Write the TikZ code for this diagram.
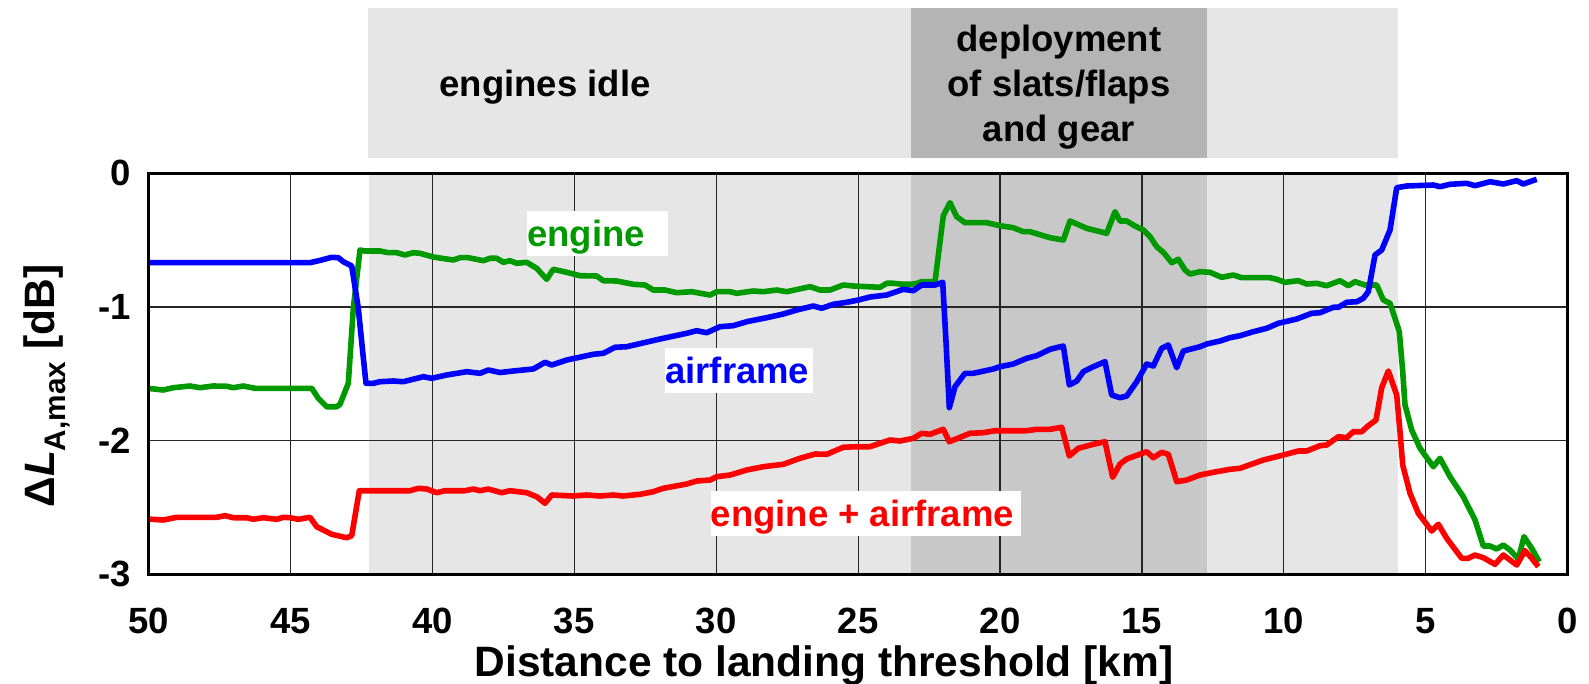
\documentclass[tikz,border=0pt]{standalone}
\usepackage{fontspec}
\setmainfont{Liberation Sans}
\definecolor{lgray}{HTML}{E6E6E6}
\definecolor{dgray}{HTML}{C8C8C8}
\definecolor{dgraytop}{HTML}{B4B4B4}
\definecolor{cgreen}{RGB}{0,153,0}
\definecolor{cblue}{RGB}{0,0,255}
\definecolor{cred}{RGB}{255,0,0}
\begin{document}
\begin{tikzpicture}[x=1pt,y=-1pt,
  curve/.style={line width=5.6pt, line join=round},
  gridline/.style={line width=1.1pt, black!85},
  lbl/.style={font=\fontsize{36.5}{45}\selectfont\bfseries, inner sep=0pt},
  titlefont/.style={font=\fontsize{42.5}{48}\selectfont\bfseries, inner sep=0pt},
  whitebox/.style={fill=white}]
\useasboundingbox (0,0) rectangle (1589,684);
% top band
\fill[lgray] (368,8) rectangle (1397.7,158);
\fill[dgraytop] (911,8) rectangle (1206.7,158);
\node[lbl, anchor=base] (idle) at (545,97) {engines idle};
\node[lbl, anchor=base] (dep1) at (1059,52) {deployment};
\node[lbl, anchor=base] (dep2) at (1059,97) {of slats/flaps};
\node[lbl, anchor=base] (dep3) at (1059,142) {and gear};
% plot background
\fill[lgray] (369,173.3) rectangle (1397.7,574.3);
\fill[dgray] (911,173.3) rectangle (1206.7,574.3);
% grid
\foreach \k in {1,...,9} {
  \pgfmathsetmacro{\gx}{148.5+141.92*\k}
  \draw[gridline] (\gx,173.3) -- (\gx,574.3);
}
\draw[gridline] (148.5,307) -- (1567.7,307);
\draw[gridline] (148.5,440.7) -- (1567.7,440.7);
% curves
\draw[curve, cgreen] (147.3,388.3) -- (163.3,390) -- (173.3,387.7) -- (190,386) -- (200,387.7) -- (213.3,386) -- (226.7,386.3) -- (233.3,387.7) -- (243.3,386) -- (255,388.3) -- (311.7,388.3) -- (318.3,398.3) -- (326.7,406.7) -- (336.7,406.7) -- (340,404.3) -- (348.3,383.3) -- (353.3,308.3) -- (360,250) -- (365,251) -- (380,251) -- (388.3,252.7) -- (396.7,252.7) -- (405,255) -- (413.3,252.7) -- (420,253.3) -- (433.3,257) -- (441.7,258.3) -- (453.3,260) -- (460,257.7) -- (468.3,257.7) -- (483.3,260.7) -- (490,258.3) -- (496.7,258.3) -- (503.3,262.3) -- (510,260.7) -- (516.7,263.3) -- (526.7,262.3) -- (536.7,268.3) -- (546.7,279.3) -- (553.3,269.3) -- (566.7,272.3) -- (580,275.7) -- (596.7,276) -- (603.3,280.7) -- (616.7,281) -- (633.3,284.3) -- (645,285) -- (653.3,290) -- (665,290) -- (676.7,292.7) -- (691.7,291.7) -- (710,295) -- (716.7,291.7) -- (730,291.7) -- (736.7,293.3) -- (753.3,291) -- (763.3,291.7) -- (776.7,290) -- (786.7,291.7) -- (810,286.7) -- (820,290) -- (830,290) -- (843.3,285) -- (853.3,286) -- (880,287.3) -- (886.7,283.3) -- (893.3,283.3) -- (903.3,284.3) -- (915,284) -- (921.7,281.7) -- (935,281.7) -- (943.3,215.7) -- (950,202.7) -- (956.7,216.7) -- (965,222.7) -- (986.7,222.7) -- (1000,225.7) -- (1013.3,227.7) -- (1023.3,231.7) -- (1030,231.7) -- (1050,237.7) -- (1063.3,240) -- (1070,221) -- (1086.7,228.3) -- (1106.7,233.3) -- (1115,211.7) -- (1120,221) -- (1126.7,221) -- (1135,226) -- (1143.3,230) -- (1150,236.7) -- (1156.7,246.7) -- (1163.3,252.3) -- (1171.7,262.7) -- (1178.3,259.3) -- (1185,270) -- (1190,274) -- (1200,271.7) -- (1210,272.3) -- (1221.7,277.3) -- (1233.3,275) -- (1241.7,277.7) -- (1270,277.7) -- (1276.7,279.3) -- (1285,282.3) -- (1298.3,280.7) -- (1306.7,284) -- (1316.7,283.3) -- (1326.7,285.7) -- (1340,280.7) -- (1348.3,285.7) -- (1355,281.7) -- (1365,285) -- (1376.7,285) -- (1383.3,300) -- (1390,303.3) -- (1395,318.3) -- (1399.3,331.7) -- (1402.7,371.7) -- (1405,405) -- (1411.7,430) -- (1420,448.3) -- (1433.3,466.7) -- (1440,458.3) -- (1450,476.7) -- (1463.3,496.7) -- (1475,520) -- (1483.3,546) -- (1490,546) -- (1496.7,549) -- (1503.3,545) -- (1510,550) -- (1518.3,559) -- (1524,536.7) -- (1531.7,548.3) -- (1539.3,561.7);
\draw[curve, cred] (147.3,519) -- (163.3,520) -- (176.7,517.3) -- (216.7,517.3) -- (225,515.7) -- (233.3,517.7) -- (246.7,517.7) -- (253.3,519.3) -- (263.3,517.7) -- (276.7,519.3) -- (283.3,517.3) -- (290,517.7) -- (298.3,519.3) -- (310,517.3) -- (316.7,526.7) -- (331.7,534.3) -- (346.7,537.7) -- (351.7,535.7) -- (359.3,490.7) -- (410,490.7) -- (418.3,488.3) -- (426.7,489) -- (436.7,492.7) -- (445,490.7) -- (465,490.7) -- (473.3,489) -- (480,490.7) -- (488.3,489) -- (501.7,492.7) -- (510,490.7) -- (526.7,492.7) -- (536.7,496.7) -- (545,503.3) -- (551.7,495) -- (573.3,496) -- (586.7,495) -- (600,496) -- (613.3,495) -- (623.3,496) -- (640,494.3) -- (653.3,491.7) -- (663.3,488.3) -- (686.7,484) -- (696.7,481) -- (710,480) -- (716.7,476.7) -- (730,475) -- (746.7,470) -- (763.3,466.7) -- (783.3,464.3) -- (800,458.3) -- (815,454) -- (826.7,454.3) -- (843.3,447.3) -- (856.7,446.7) -- (870,446.7) -- (880,443.3) -- (890,440) -- (900,441) -- (913.3,438.3) -- (921.7,433.3) -- (930,434.3) -- (943.3,429.3) -- (949.3,441.7) -- (970,433.3) -- (983.3,432.7) -- (995,430.7) -- (1026.7,430.7) -- (1036.7,429.3) -- (1050,429.3) -- (1061.7,427.3) -- (1069.3,456) -- (1078.3,448.3) -- (1093.3,444.3) -- (1105,441.7) -- (1112.7,477.3) -- (1120,464) -- (1126.7,459) -- (1146.7,451.7) -- (1153.3,457.7) -- (1161.7,452.3) -- (1168.3,454.3) -- (1176.7,481.7) -- (1186.7,480) -- (1200,475) -- (1213.3,472.3) -- (1230,469.3) -- (1240,468.3) -- (1263.3,460) -- (1283.3,455) -- (1298.3,451) -- (1306.7,451) -- (1320,445.7) -- (1326.7,445) -- (1338.3,436.7) -- (1346.7,437.7) -- (1353.3,431.7) -- (1361.7,431.7) -- (1368.3,425.7) -- (1376,420) -- (1381.7,387.7) -- (1388.3,371) -- (1396.7,395) -- (1400,431.7) -- (1402.7,465) -- (1410,493.3) -- (1418.3,513.3) -- (1431.7,531) -- (1438.3,524.3) -- (1446.7,538.3) -- (1461.7,558.3) -- (1468.3,558.3) -- (1475,555) -- (1483.3,557.7) -- (1495,564.3) -- (1503.3,555) -- (1516.7,565) -- (1525,550.7) -- (1531.7,558.3) -- (1538.3,566.7);
\draw[curve, cblue] (147.3,262.7) -- (310,262.7) -- (321.7,260) -- (331.7,257.3) -- (338.3,257.7) -- (343.3,261.7) -- (351.7,266) -- (358.3,308.3) -- (362.7,351.7) -- (366,383.3) -- (373.3,383.3) -- (380,381.7) -- (393.3,381) -- (403.3,381.7) -- (423.3,376.7) -- (431.7,378.3) -- (446.7,375) -- (466.7,371.7) -- (480,373.3) -- (488.3,370) -- (500,372.5) -- (513.3,371) -- (533.3,369) -- (545,362.3) -- (551.7,365) -- (566.7,360) -- (593.3,354.3) -- (603.3,353.3) -- (615,347.3) -- (626.7,346.7) -- (660,339) -- (686.7,333.3) -- (696.7,330.7) -- (706.7,332.7) -- (720,326.7) -- (733.3,325.7) -- (746.7,321.7) -- (766.7,317.7) -- (783.3,314) -- (796.7,310) -- (813.3,306) -- (821.7,308.3) -- (833.3,304.3) -- (846.7,302.3) -- (858.3,300) -- (870,297) -- (886.7,295) -- (903.3,289.3) -- (913.3,290.7) -- (921.7,285) -- (935,285) -- (942.7,282.3) -- (946,341.7) -- (949.3,407.7) -- (955,386.7) -- (965,373.3) -- (973.3,373.3) -- (993.3,369) -- (1000,366.7) -- (1013.3,364) -- (1026.7,358.3) -- (1036.7,355.7) -- (1050,349.3) -- (1063.3,346) -- (1069.3,385) -- (1076.7,381) -- (1083.3,371.7) -- (1093.3,366.7) -- (1105,361.7) -- (1111.7,395) -- (1120,397.7) -- (1126.7,396) -- (1136.7,381.7) -- (1146.7,364) -- (1153.3,366) -- (1161.7,348.3) -- (1168.3,345) -- (1176.7,367.7) -- (1183.3,351) -- (1200,346.7) -- (1206.7,344) -- (1220,341) -- (1230,337.7) -- (1240,335.7) -- (1253.3,331.7) -- (1266.7,328.3) -- (1278.3,323.3) -- (1296.7,319) -- (1311.7,313.3) -- (1320,312.7) -- (1333.3,307.3) -- (1338.3,307.3) -- (1346.7,302.3) -- (1356.7,301.7) -- (1363.3,298.3) -- (1368.3,291.7) -- (1375,255) -- (1381.7,250) -- (1390,230) -- (1396.7,187.7) -- (1406.7,186) -- (1433.3,185) -- (1440,186.7) -- (1450,184.3) -- (1466.7,183.3) -- (1475,185.7) -- (1490,181.7) -- (1503.3,184) -- (1516.7,180.7) -- (1523.3,184) -- (1536.7,179.3);
% curve labels
\fill[whitebox] (526.7,211) rectangle (667.7,255.7);
\node[lbl, text=cgreen, anchor=base west] (lengine) at (527,246.7) {engine};
\fill[whitebox] (665,348) rectangle (812.7,392.7);
\node[lbl, text=cblue, anchor=base west] (lairframe) at (665,383.3) {airframe};
\fill[whitebox] (711,491) rectangle (1021,535.7);
\node[lbl, text=cred, anchor=base west] (lboth) at (710.5,526) {engine + airframe};
% frame
\draw[line width=3pt] (148.5,173.3) rectangle (1567.7,574.3);
% tick labels
\foreach \k in {0,...,10} {
  \pgfmathsetmacro{\gx}{148.5+141.92*\k}
  \pgfmathtruncatemacro{\v}{50-5*\k}
  \node[lbl, anchor=base] (xt\k) at (\gx,633) {\v};
}
\node[lbl, anchor=east] (yt0) at (131,173.3) {0};
\node[lbl, anchor=east] (yt1) at (131,307) {-1};
\node[lbl, anchor=east] (yt2) at (131,440.7) {-2};
\node[lbl, anchor=east] (yt3) at (131,574.4) {-3};
% axis titles
\node[titlefont, anchor=base] (xtitle) at (824,676) {Distance to landing threshold [km]};
\node[titlefont, anchor=base, rotate=90] (ytitle) at (54,386) {Δ\textit{L}\textsubscript{A,max} [dB]};
\end{tikzpicture}
\end{document}
